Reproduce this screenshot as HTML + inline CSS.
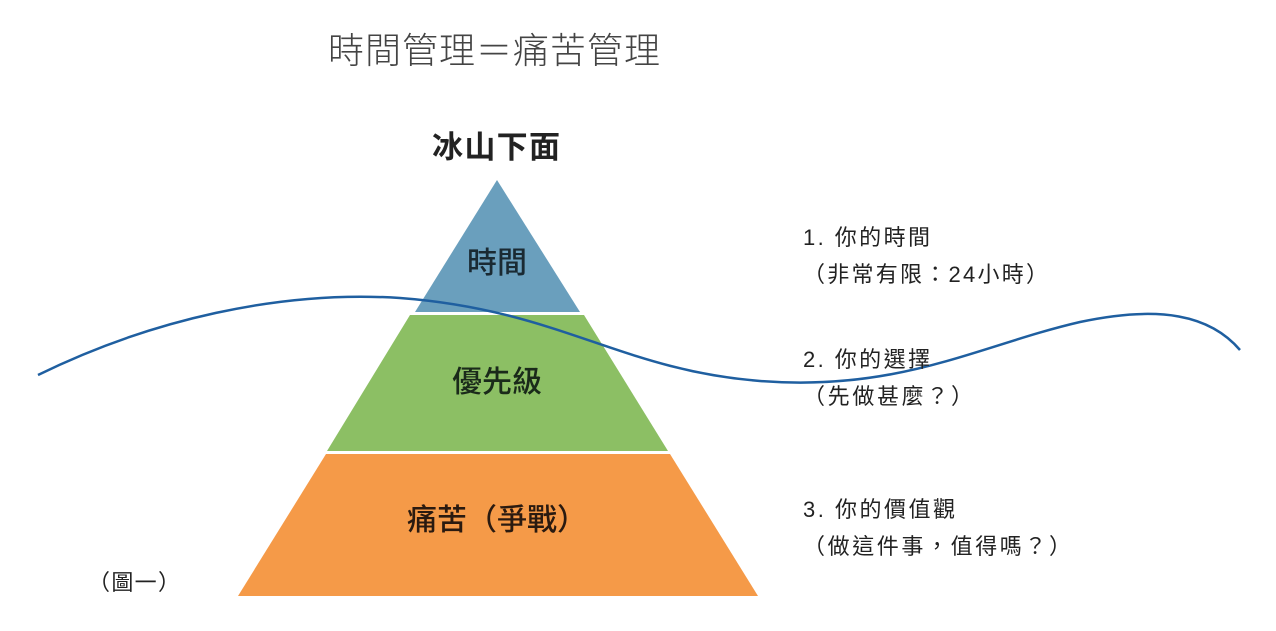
<!DOCTYPE html>
<html><head><meta charset="utf-8"><style>
html,body{margin:0;padding:0;background:#fff;}
body{width:1276px;height:631px;overflow:hidden;position:relative;font-family:"Liberation Sans","Noto Sans CJK TC",sans-serif;}
</style></head><body>
<svg width="1276" height="631" style="position:absolute;left:0;top:0">
<polygon points="497,180 580,312 415,312" fill="#6a9fbd"/>
<polygon points="410,315 584,315 668,451 327,451" fill="#8cbf64"/>
<polygon points="326,454 670,454 758,596 238,596" fill="#f59a48"/>
<path d="M38,375 C150,320 280,290 400,298 C560,310 620,370 760,381 C900,392 980,345 1080,322 C1160,305 1210,315 1240,350" fill="none" stroke="#1f5fa0" stroke-width="2.5"/>
<text x="328" y="63" font-size="36" fill="#444" font-family="Noto Sans CJK TC, sans-serif" font-weight="300" textLength="332" lengthAdjust="spacing">時間管理＝痛苦管理</text>
<text x="432" y="158" font-size="31" fill="#222" font-weight="bold" font-family="Noto Sans CJK TC, sans-serif" textLength="128" lengthAdjust="spacing">冰山下面</text>
<text x="497" y="273" font-size="30" fill="#1a2a33" text-anchor="middle" font-family="Noto Sans CJK TC, sans-serif" font-weight="500">時間</text>
<text x="497" y="392" font-size="30" fill="#1a2a1a" text-anchor="middle" font-family="Noto Sans CJK TC, sans-serif" font-weight="500">優先級</text>
<text x="497" y="530" font-size="30" fill="#2a1a10" text-anchor="middle" font-family="Noto Sans CJK TC, sans-serif" font-weight="500">痛苦（爭戰）</text>
<g font-size="22" fill="#222" font-family="Liberation Sans, Noto Sans CJK TC, sans-serif">
<text x="803" y="245" textLength="127" lengthAdjust="spacing">1. 你的時間</text>
<text x="803" y="282" textLength="245" lengthAdjust="spacing">（非常有限：24小時）</text>
<text x="803" y="367" textLength="127" lengthAdjust="spacing">2. 你的選擇</text>
<text x="803" y="404" textLength="170" lengthAdjust="spacing">（先做甚麼？）</text>
<text x="803" y="517" textLength="152" lengthAdjust="spacing">3. 你的價值觀</text>
<text x="803" y="554" textLength="268" lengthAdjust="spacing">（做這件事，值得嗎？）</text>
<text x="88" y="590" textLength="92" lengthAdjust="spacing">（圖一）</text>
</g>
</svg>
</body></html>
